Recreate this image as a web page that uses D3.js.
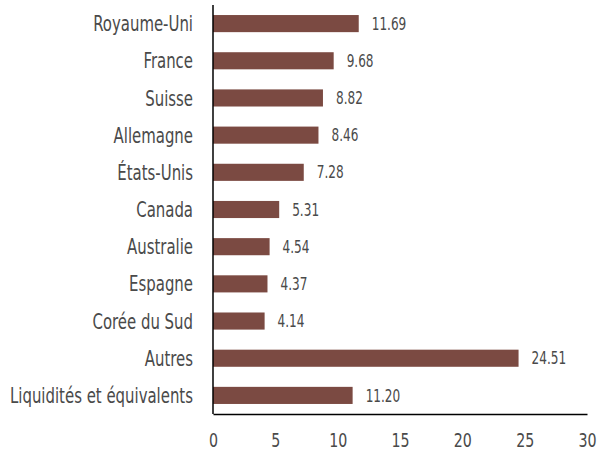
<!DOCTYPE html>
<html>
<head>
<meta charset="utf-8">
<script src="https://cdn.jsdelivr.net/npm/d3@7"></script>
<style>
  body { margin: 0; background: #fff; }
  text { font-family: "DejaVu Sans Condensed", "DejaVu Sans", sans-serif; font-stretch: condensed; fill: #4a4a4a; }
</style>
</head>
<body>
<div id="chart"></div>
<script>
const categories = ['Royaume-Uni', 'France', 'Suisse', 'Allemagne', 'États-Unis', 'Canada',
    'Australie', 'Espagne', 'Corée du Sud', 'Autres', 'Liquidités et équivalents']
const values = [11.69, 9.68, 8.82, 8.46, 7.28, 5.31, 4.54, 4.37, 4.14, 24.51, 11.20]
const xTicks = [0, 5, 10, 15, 20, 25, 30]

const width = 598
const height = 456
const margin = { top: 5, right: 11, bottom: 42, left: 213 }
const squeeze = 0.79  // narrow the glyphs to look like the condensed face in the original

const svg = d3.select('#chart').append('svg')
    .attr('width', width)
    .attr('height', height)

const x = d3.scaleLinear()
    .domain([0, 30])
    .range([margin.left, width - margin.right])

const y = d3.scaleBand()
    .domain(categories)
    .range([margin.top, height - margin.bottom])
    .paddingInner(0.54)
    .paddingOuter(0.27)

// bars
svg.selectAll('.bar')
    .data(values)
    .join('rect')
    .attr('class', 'bar')
    .attr('x', x(0))
    .attr('y', (d, i) => y(categories[i]))
    .attr('width', d => x(d) - x(0))
    .attr('height', y.bandwidth())
    .attr('fill', '#7b4a42')

// value labels
svg.selectAll('.val')
    .data(values)
    .join('text')
    .attr('class', 'val')
    .attr('transform', (d, i) => `translate(${x(d) + 13},${y(categories[i]) + y.bandwidth() / 2}) scale(${squeeze},1)`)
    .attr('dy', '0.36em')
    .style('font-size', '17px')
    .text(d => d.toFixed(2))

// category labels
svg.selectAll('.cat')
    .data(categories)
    .join('text')
    .attr('class', 'cat')
    .attr('transform', d => `translate(${margin.left - 20},${y(d) + y.bandwidth() / 2}) scale(${squeeze},1)`)
    .attr('dy', '0.36em')
    .attr('text-anchor', 'end')
    .style('font-size', '21px')
    .text(d => d)

// axes
const xAxis = svg.append('g')
    .attr('transform', `translate(0,${height - margin.bottom})`)
    .call(d3.axisBottom(x).tickValues(xTicks).tickSize(0).tickPadding(19).tickFormat(d3.format('d')))
xAxis.select('.domain').attr('stroke', '#000').attr('stroke-width', 1.5)
xAxis.selectAll('.tick text')
    .attr('transform', `scale(${squeeze},1)`)
    .style('font-size', '20px')
    .style('fill', '#4a4a4a')

svg.append('line')
    .attr('x1', x(0)).attr('x2', x(0))
    .attr('y1', margin.top).attr('y2', height - margin.bottom)
    .attr('stroke', '#000')
    .attr('stroke-width', 1.5)
</script>
</body>
</html>
